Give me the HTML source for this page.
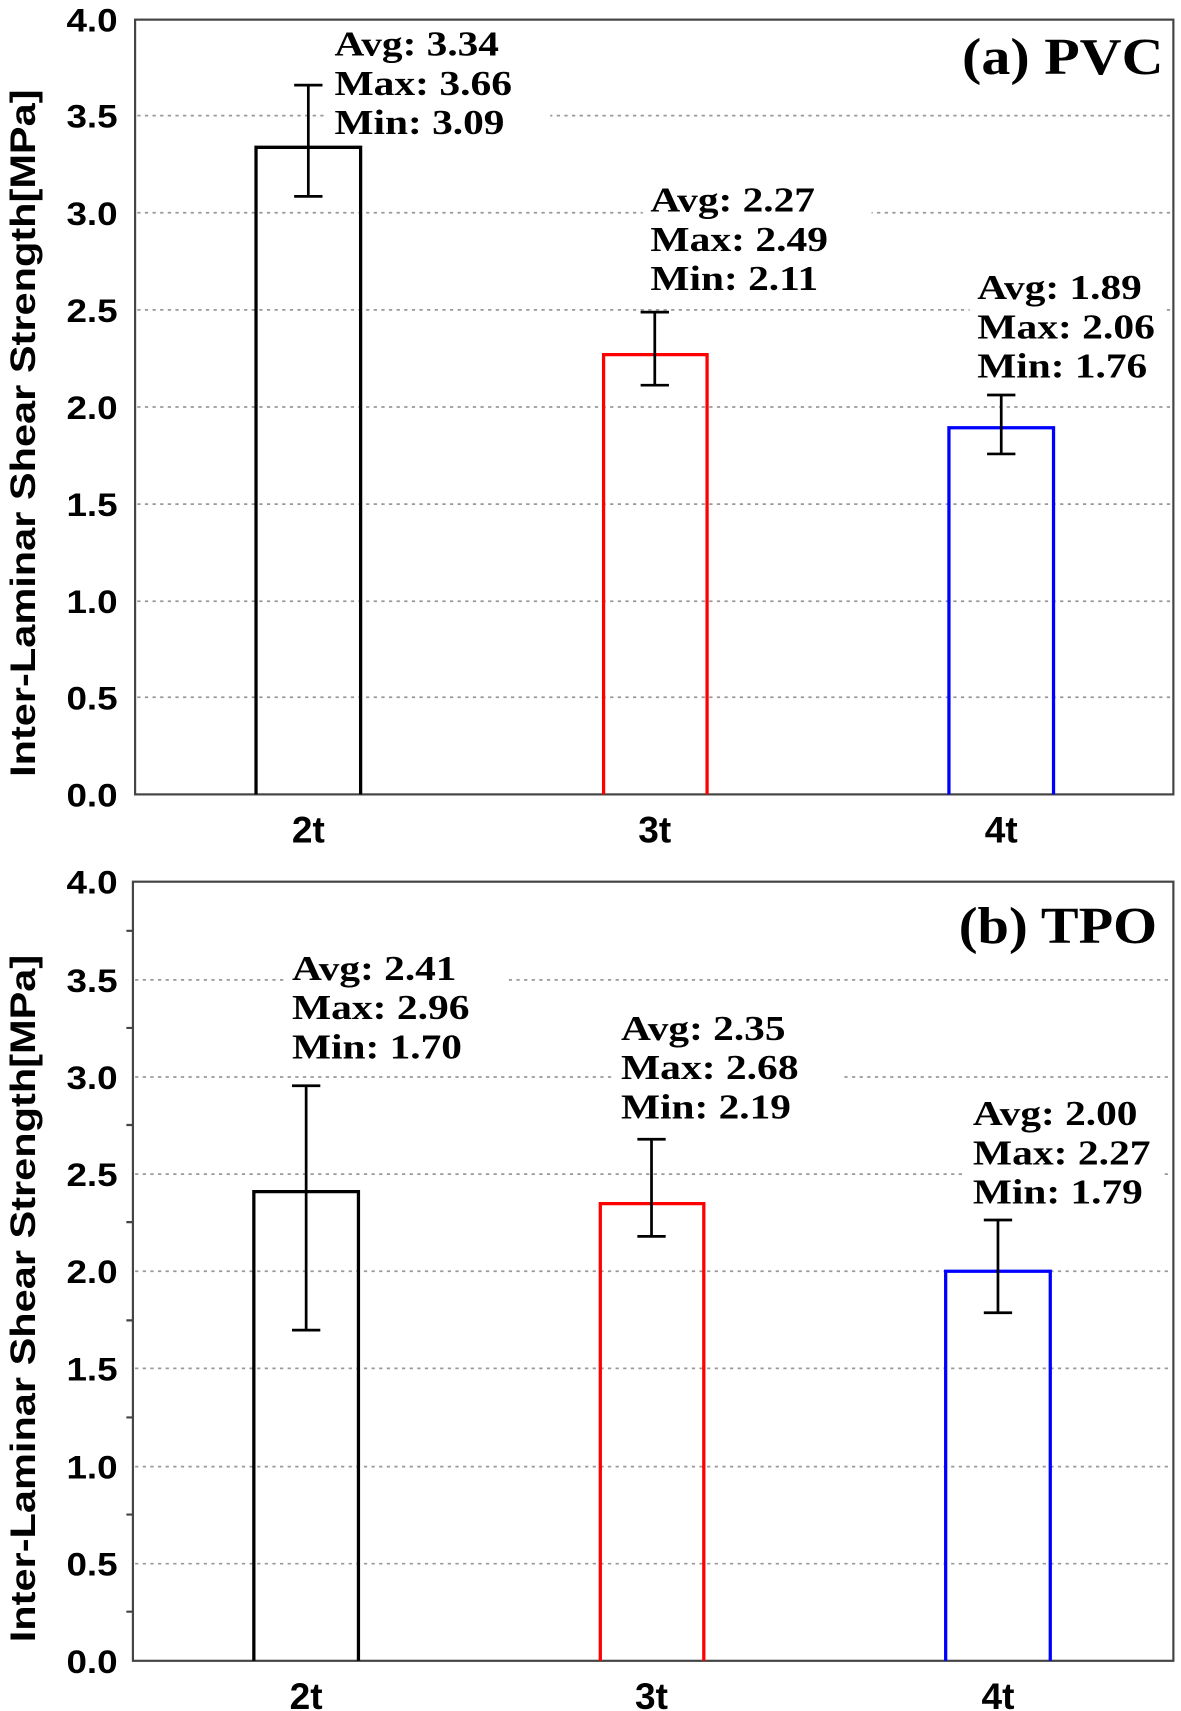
<!DOCTYPE html>
<html><head><meta charset="utf-8"><style>html,body{margin:0;padding:0;background:#fff}svg{display:block}</style></head><body>
<svg width="1181" height="1711" viewBox="0 0 1084 1568" preserveAspectRatio="none" xmlns="http://www.w3.org/2000/svg">
<rect width="1084" height="1568" fill="#fff"/>
<g stroke="#999" stroke-width="1.6" stroke-dasharray="3,4">
<line x1="126" x2="1076" y1="106" y2="106"/><line x1="126" x2="1076" y1="195" y2="195"/><line x1="126" x2="1076" y1="284" y2="284"/><line x1="126" x2="1076" y1="373" y2="373"/><line x1="126" x2="1076" y1="462" y2="462"/><line x1="126" x2="1076" y1="551" y2="551"/><line x1="126" x2="1076" y1="639" y2="639"/>
<line x1="124" x2="1076" y1="898" y2="898"/><line x1="124" x2="1076" y1="987" y2="987"/><line x1="124" x2="1076" y1="1076" y2="1076"/><line x1="124" x2="1076" y1="1165" y2="1165"/><line x1="124" x2="1076" y1="1254" y2="1254"/><line x1="124" x2="1076" y1="1344" y2="1344"/><line x1="124" x2="1076" y1="1433" y2="1433"/>
</g>
<g fill="#fff">
<rect x="300" y="22" width="205" height="110"/><rect x="590" y="165" width="210" height="110"/><rect x="890" y="245" width="180" height="110"/>
<rect x="262" y="869" width="205" height="110"/><rect x="563" y="924" width="210" height="110"/><rect x="886" y="1002" width="180" height="110"/>
<rect x="870" y="22" width="205" height="60"/><rect x="870" y="818" width="205" height="60"/>
</g>
<g fill="none" stroke="#444" stroke-width="2">
<rect x="124" y="18" width="953" height="710"/>
<rect x="122" y="808" width="955" height="714"/>
<path d="M116 853H122M116 942H122M116 1031H122M116 1120H122M116 1210H122M116 1299H122M116 1388H122M116 1477H122"/>
</g>
<g fill="none" stroke-width="3">
<path d="M235 728V135H331V728" stroke="#000"/>
<path d="M554 728V325H649V728" stroke="#f00"/>
<path d="M871 728V392H967V728" stroke="#00f"/>
<path d="M233 1522V1092H329V1522" stroke="#000"/>
<path d="M551 1522V1103H646V1522" stroke="#f00"/>
<path d="M868 1522V1165H964V1522" stroke="#00f"/>
</g>
<g fill="none" stroke="#000" stroke-width="2.5">
<path d="M283 78V180M270 78H296M270 180H296"/>
<path d="M601 286V353M588 286H614M588 353H614"/>
<path d="M919 362V416M906 362H932M906 416H932"/>
<path d="M281 995V1219M268 995H294M268 1219H294"/>
<path d="M598 1044V1133M585 1044H611M585 1133H611"/>
<path d="M916 1118V1203M903 1118H929M903 1203H929"/>
</g>
<g font-family="Liberation Serif, serif" font-weight="bold" font-size="32" fill="#000" lengthAdjust="spacingAndGlyphs">
<text x="307" y="51" textLength="151" lengthAdjust="spacingAndGlyphs">Avg: 3.34</text><text x="307" y="87" textLength="163" lengthAdjust="spacingAndGlyphs">Max: 3.66</text><text x="307" y="123" textLength="156" lengthAdjust="spacingAndGlyphs">Min: 3.09</text>
<text x="597" y="194" textLength="151" lengthAdjust="spacingAndGlyphs">Avg: 2.27</text><text x="597" y="230" textLength="163" lengthAdjust="spacingAndGlyphs">Max: 2.49</text><text x="597" y="266" textLength="154" lengthAdjust="spacingAndGlyphs">Min: 2.11</text>
<text x="897" y="274" textLength="151" lengthAdjust="spacingAndGlyphs">Avg: 1.89</text><text x="897" y="310" textLength="163" lengthAdjust="spacingAndGlyphs">Max: 2.06</text><text x="897" y="346" textLength="156" lengthAdjust="spacingAndGlyphs">Min: 1.76</text>
<text x="268" y="898" textLength="151" lengthAdjust="spacingAndGlyphs">Avg: 2.41</text><text x="268" y="934" textLength="163" lengthAdjust="spacingAndGlyphs">Max: 2.96</text><text x="268" y="970" textLength="156" lengthAdjust="spacingAndGlyphs">Min: 1.70</text>
<text x="570" y="953" textLength="151" lengthAdjust="spacingAndGlyphs">Avg: 2.35</text><text x="570" y="989" textLength="163" lengthAdjust="spacingAndGlyphs">Max: 2.68</text><text x="570" y="1025" textLength="156" lengthAdjust="spacingAndGlyphs">Min: 2.19</text>
<text x="893" y="1031" textLength="151" lengthAdjust="spacingAndGlyphs">Avg: 2.00</text><text x="893" y="1067" textLength="163" lengthAdjust="spacingAndGlyphs">Max: 2.27</text><text x="893" y="1103" textLength="156" lengthAdjust="spacingAndGlyphs">Min: 1.79</text>
<text x="883" y="68" font-size="48" textLength="185" lengthAdjust="spacingAndGlyphs">(a) PVC</text>
<text x="880" y="864" font-size="48" textLength="182" lengthAdjust="spacingAndGlyphs">(b) TPO</text>
</g>
<g font-family="Liberation Sans, sans-serif" font-weight="bold" font-size="30" fill="#000">
<text x="61" y="29" textLength="47" lengthAdjust="spacingAndGlyphs">4.0</text><text x="61" y="117" textLength="47" lengthAdjust="spacingAndGlyphs">3.5</text><text x="61" y="206" textLength="47" lengthAdjust="spacingAndGlyphs">3.0</text><text x="61" y="295" textLength="47" lengthAdjust="spacingAndGlyphs">2.5</text><text x="61" y="384" textLength="47" lengthAdjust="spacingAndGlyphs">2.0</text><text x="61" y="473" textLength="47" lengthAdjust="spacingAndGlyphs">1.5</text><text x="61" y="562" textLength="47" lengthAdjust="spacingAndGlyphs">1.0</text><text x="61" y="650" textLength="47" lengthAdjust="spacingAndGlyphs">0.5</text><text x="61" y="739" textLength="47" lengthAdjust="spacingAndGlyphs">0.0</text>
<text x="61" y="819" textLength="47" lengthAdjust="spacingAndGlyphs">4.0</text><text x="61" y="909" textLength="47" lengthAdjust="spacingAndGlyphs">3.5</text><text x="61" y="998" textLength="47" lengthAdjust="spacingAndGlyphs">3.0</text><text x="61" y="1087" textLength="47" lengthAdjust="spacingAndGlyphs">2.5</text><text x="61" y="1176" textLength="47" lengthAdjust="spacingAndGlyphs">2.0</text><text x="61" y="1265" textLength="47" lengthAdjust="spacingAndGlyphs">1.5</text><text x="61" y="1355" textLength="47" lengthAdjust="spacingAndGlyphs">1.0</text><text x="61" y="1444" textLength="47" lengthAdjust="spacingAndGlyphs">0.5</text><text x="61" y="1533" textLength="47" lengthAdjust="spacingAndGlyphs">0.0</text>
</g>
<g font-family="Liberation Sans, sans-serif" font-weight="bold" font-size="34" fill="#000" text-anchor="middle">
<text x="283" y="772">2t</text><text x="601" y="772">3t</text><text x="919" y="772">4t</text>
<text x="281" y="1566">2t</text><text x="598" y="1566">3t</text><text x="916" y="1566">4t</text>
<text transform="translate(32,397) rotate(-90)" font-size="32" textLength="630" lengthAdjust="spacingAndGlyphs">Inter-Laminar Shear Strength[MPa]</text>
<text transform="translate(32,1190) rotate(-90)" font-size="32" textLength="630" lengthAdjust="spacingAndGlyphs">Inter-Laminar Shear Strength[MPa]</text>
</g>
</svg>
</body></html>
